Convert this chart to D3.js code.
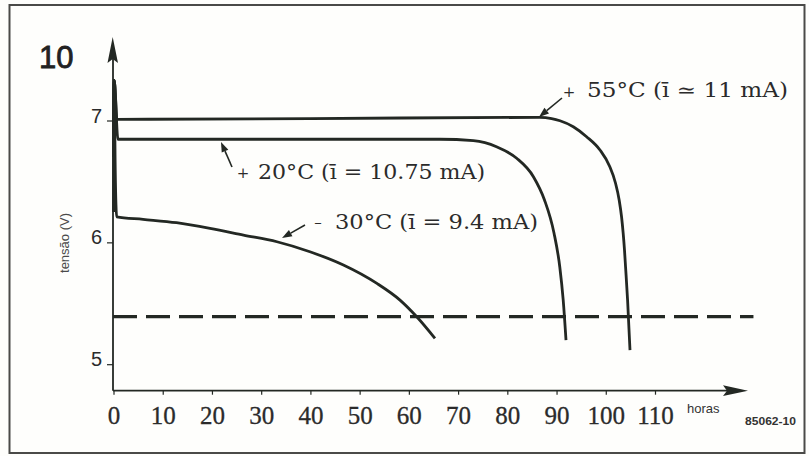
<!DOCTYPE html>
<html><head><meta charset="utf-8">
<script src="https://cdn.jsdelivr.net/npm/d3@7"></script>
<style>body{margin:0;background:#fff}svg{display:block}</style>
</head><body><svg id="c" width="809" height="456"></svg>
<script>
// ---- data ----
const xTicks = [0,10,20,30,40,50,60,70,80,90,100,110];
const yTicks = [5,6,7];
const xUnit = "horas";
const yLabel = "tensão (V)";
const figNumber = "10";
const figCode = "85062-10";
const cutoffVoltage = 5.39;
const cutoffSpan = [0,130];
// (hours, volts)
const curve55 = [[0,6.9],[0.15,7.33],[0.7,7.01],[40,7.016],[86.6,7.026],[89,7.016],[90.7,6.998],[93.4,6.949],[96.1,6.867],[98.82,6.758],[100.75,6.627],[101.97,6.487],[102.72,6.348],[103.21,6.208],[103.53,6.077],[103.8,5.938],[104.02,5.798],[104.43,5.527],[104.92,5.116]];
const curve20 = [[0,6.7],[0.15,7.33],[0.9,6.846],[40,6.846],[66.3,6.846],[73.1,6.834],[77.8,6.785],[81.9,6.69],[85.3,6.539],[87.55,6.348],[89.48,6.077],[90.66,5.798],[91.35,5.527],[91.92,5.198]];
const curveM30 = [[0,6.25],[0.15,7.33],[0.35,6.6],[0.65,6.21],[6,6.189],[12.8,6.161],[19.6,6.115],[26.4,6.06],[33.2,6.005],[39.9,5.923],[46.7,5.814],[53.5,5.663],[58.2,5.526],[61.6,5.389],[65.3,5.212]];
const seriesSigns = ["+","+","–"];
const seriesLabels = ["55°C (ī ≃ 11 mA)","20°C (ī = 10.75 mA)","30°C (ī = 9.4 mA)"];

// ---- drawing ----
const svg = d3.select("#c");
const ink = "#232823";
svg.append("rect").attr("width",809).attr("height",456).attr("fill","#fefefc");
svg.append("rect").attr("x",9.5).attr("y",5).attr("width",795).attr("height",448)
  .attr("fill","none").attr("stroke","#4a4a48").attr("stroke-width",2);

const x = d3.scaleLinear().domain([0,110]).range([113.5,655]);
const y = d3.scaleLinear().domain([5,7]).range([364.2,120.5]);
const axisY0 = 390.7, axisX0 = 113;

// axes lines + arrows
svg.append("line").attr("x1",axisX0).attr("x2",730).attr("y1",axisY0).attr("y2",axisY0)
  .attr("stroke",ink).attr("stroke-width",1.8);
svg.append("path").attr("d",`M723,385.3 L748,${axisY0} L723,396.1 L727,${axisY0} Z`).attr("fill",ink);
svg.append("line").attr("x1",axisX0).attr("x2",axisX0).attr("y1",axisY0).attr("y2",55)
  .attr("stroke",ink).attr("stroke-width",1.8);
svg.append("path").attr("d",`M107.5,63 L112.7,37 L118,63 L112.7,59 Z`).attr("fill",ink);

// x axis ticks
const gx = svg.append("g").attr("transform",`translate(0,${axisY0})`)
  .call(d3.axisBottom(x).tickValues(xTicks).tickSize(4).tickPadding(0).tickFormat(d3.format("d")));
gx.select(".domain").remove();
gx.selectAll(".tick line").attr("stroke",ink).attr("stroke-width",1.2);
gx.selectAll(".tick text").attr("y",33).attr("dy",null)
  .attr("font-family","'Liberation Serif',serif").attr("font-size",25).attr("fill","#2b2b2b")
  .attr("stroke","#2b2b2b").attr("stroke-width",0.3);

// y axis ticks
const gy = svg.append("g").attr("transform",`translate(${axisX0},0)`)
  .call(d3.axisLeft(y).tickValues(yTicks).tickSize(6).tickPadding(0).tickFormat(d3.format("d")));
gy.select(".domain").remove();
gy.selectAll(".tick line").attr("stroke",ink).attr("stroke-width",1.2);
gy.selectAll(".tick text").attr("x",-11).attr("y",1.5).attr("dy",null)
  .attr("font-family","'Liberation Sans',sans-serif").attr("font-size",20).attr("fill","#2b2b2b");

// labels
svg.append("text").attr("x",39).attr("y",68).text(figNumber)
  .attr("font-family","'Liberation Sans',sans-serif").attr("font-size",31).attr("fill","#222")
  .attr("stroke","#222").attr("stroke-width",0.8);
svg.append("text").attr("transform","translate(69,243) rotate(-90)").attr("text-anchor","middle")
  .text(yLabel).attr("font-family","'Liberation Sans',sans-serif").attr("font-size",13).attr("fill","#4a4a4a");
svg.append("text").attr("x",687).attr("y",413).text(xUnit)
  .attr("font-family","'Liberation Sans',sans-serif").attr("font-size",13).attr("fill","#333");
svg.append("text").attr("x",745).attr("y",425).text(figCode)
  .attr("font-family","'Liberation Sans',sans-serif").attr("font-size",10).attr("font-weight","bold")
  .attr("textLength",51).attr("lengthAdjust","spacingAndGlyphs").attr("fill","#333");

// cutoff dashed line
svg.append("line").attr("x1",x(cutoffSpan[0])-0.5).attr("x2",x(cutoffSpan[1]))
  .attr("y1",y(cutoffVoltage)).attr("y2",y(cutoffVoltage))
  .attr("stroke",ink).attr("stroke-width",3.2).attr("stroke-dasharray","24,9");

// curves
const line = d3.line().x(d=>x(d[0])).y(d=>y(d[1])).curve(d3.curveMonotoneX);
[curve55,curve20,curveM30].forEach(c=>{
  svg.append("path").attr("d",line(c)).attr("fill","none").attr("stroke",ink)
    .attr("stroke-width",2.8).attr("stroke-linejoin","round").attr("stroke-linecap","butt");
});

// series labels with arrows
const labelLayout = [
  {sx:569, sy:96.5, tx:587, ty:97, w:201, a:[562,98,539,117]},
  {sx:243, sy:178, tx:258, ty:178.5, w:227, a:[232,167,221,142]},
  {sx:318, sy:226.5, tx:335, ty:228.5, w:203, a:[305,225,282,238]}
];
function arrow(x1,y1,x2,y2){
  const ang = Math.atan2(y2-y1,x2-x1), L=10, W=3.6;
  const bx = x2-L*Math.cos(ang), by = y2-L*Math.sin(ang);
  svg.append("line").attr("x1",x1).attr("y1",y1).attr("x2",bx).attr("y2",by)
    .attr("stroke",ink).attr("stroke-width",1.6);
  const px=-Math.sin(ang)*W, py=Math.cos(ang)*W;
  svg.append("path").attr("d",`M${x2},${y2} L${bx+px},${by+py} L${bx-px},${by-py} Z`).attr("fill",ink);
}
seriesLabels.forEach((t,i)=>{
  const L = labelLayout[i];
  svg.append("text").attr("x",L.sx).attr("y",L.sy).attr("text-anchor","middle").text(seriesSigns[i])
    .attr("font-family","'DejaVu Serif',serif").attr("font-size",15).attr("fill","#2b2b2b");
  svg.append("text").attr("x",L.tx).attr("y",L.ty).text(t)
    .attr("font-family","'DejaVu Serif',serif").attr("font-size",20).attr("fill","#2b2b2b")
    .attr("textLength",L.w).attr("lengthAdjust","spacingAndGlyphs");
  arrow(...L.a);
});
</script></body></html>
